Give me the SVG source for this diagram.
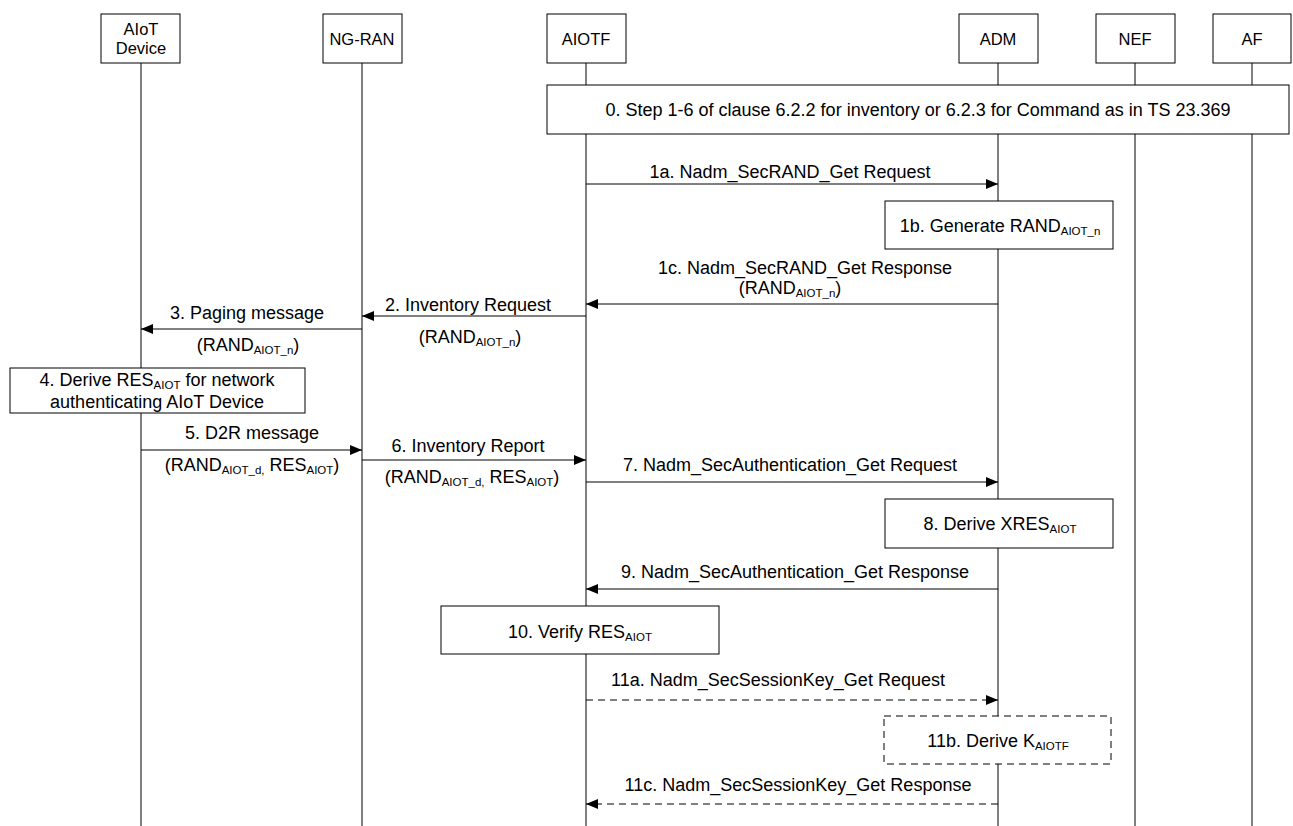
<svg xmlns="http://www.w3.org/2000/svg" width="1293" height="826" viewBox="0 0 1293 826">
<style>
text{font-family:"Liberation Sans",Arial,sans-serif;font-size:18px;fill:#000;text-anchor:middle}
.hd{font-size:16.5px}
.sub{font-size:11.5px}
.box{fill:#fff;stroke:#000;stroke-width:1}
.dbox{fill:#fff;stroke:#000;stroke-width:1;stroke-dasharray:7,5}
.life{stroke:#000;stroke-width:1}
.msg{stroke:#000;stroke-width:1;fill:none;marker-end:url(#ah)}
.dmsg{stroke:#000;stroke-width:1;fill:none;stroke-dasharray:7,5;marker-end:url(#ah)}
</style>
<defs>
<marker id="ah" markerWidth="12" markerHeight="10" refX="12" refY="5" orient="auto" markerUnits="userSpaceOnUse">
<path d="M0,0 L12,5 L0,10 Z" fill="#000"/>
</marker>
</defs>
<rect width="1293" height="826" fill="#fff"/>
<g id="lifelines">
<line class="life" x1="141" y1="63" x2="141" y2="826"/>
<line class="life" x1="362" y1="63" x2="362" y2="826"/>
<line class="life" x1="586" y1="63" x2="586" y2="826"/>
<line class="life" x1="998" y1="63" x2="998" y2="826"/>
<line class="life" x1="1135" y1="63" x2="1135" y2="826"/>
<line class="life" x1="1252" y1="63" x2="1252" y2="826"/>
</g>
<g id="node-aiot"><rect class="box" x="101" y="14" width="79" height="49"/><text class="hd" x="141" y="35">AIoT</text><text class="hd" x="141" y="53.5">Device</text></g>
<g id="node-ngran"><rect class="box" x="323" y="14" width="79" height="49"/><text class="hd" x="362" y="44.5">NG-RAN</text></g>
<g id="node-aiotf"><rect class="box" x="547" y="14" width="79" height="49"/><text class="hd" x="586" y="44.5">AIOTF</text></g>
<g id="node-adm"><rect class="box" x="959" y="14" width="79" height="49"/><text class="hd" x="998" y="44.5">ADM</text></g>
<g id="node-nef"><rect class="box" x="1096" y="14" width="79" height="49"/><text class="hd" x="1135" y="44.5">NEF</text></g>
<g id="node-af"><rect class="box" x="1213" y="14" width="78" height="49"/><text class="hd" x="1252" y="44.5">AF</text></g>
<g id="step0"><rect class="box" x="547" y="85" width="742" height="49"/><text x="918" y="116">0. Step 1-6 of clause 6.2.2 for inventory or 6.2.3 for Command as in TS 23.369</text></g>
<g id="step1b"><rect class="box" x="885" y="201" width="228" height="48"/><text x="1000" y="232">1b. Generate RAND<tspan class="sub" dy="3">AIOT_n</tspan></text></g>
<g id="step4"><rect class="box" x="10" y="368" width="295" height="45"/><text x="157" y="386">4. Derive RES<tspan class="sub" dy="3">AIOT</tspan><tspan dy="-3"> for network</tspan></text><text x="157" y="408">authenticating AIoT Device</text></g>
<g id="step8"><rect class="box" x="885" y="499" width="228" height="49"/><text x="1000" y="530">8. Derive XRES<tspan class="sub" dy="3">AIOT</tspan></text></g>
<g id="step10"><rect class="box" x="441" y="606" width="278" height="48"/><text x="580" y="638">10. Verify RES<tspan class="sub" dy="3">AIOT</tspan></text></g>
<g id="step11b"><rect class="dbox" x="884" y="716" width="227" height="48"/><text x="998" y="747">11b. Derive K<tspan class="sub" dy="3">AIOTF</tspan></text></g>
<g id="connectors">
<line class="msg" x1="586" y1="184" x2="998" y2="184"/>
<line class="msg" x1="998" y1="304" x2="586" y2="304"/>
<line class="msg" x1="586" y1="316" x2="362" y2="316"/>
<line class="msg" x1="362" y1="329" x2="141" y2="329"/>
<line class="msg" x1="141" y1="450" x2="362" y2="450"/>
<line class="msg" x1="362" y1="460" x2="586" y2="460"/>
<line class="msg" x1="586" y1="482" x2="998" y2="482"/>
<line class="msg" x1="998" y1="589" x2="586" y2="589"/>
<line class="dmsg" x1="586" y1="700" x2="998" y2="700"/>
<line class="dmsg" x1="998" y1="804" x2="586" y2="804"/>
</g>
<g id="labels">
<text x="790" y="178">1a. Nadm_SecRAND_Get Request</text>
<text x="805" y="274">1c. Nadm_SecRAND_Get Response</text>
<text x="790" y="294">(RAND<tspan class="sub" dy="3">AIOT_n</tspan><tspan dy="-3">)</tspan></text>
<text x="468" y="311">2. Inventory Request</text>
<text x="470" y="343">(RAND<tspan class="sub" dy="3">AIOT_n</tspan><tspan dy="-3">)</tspan></text>
<text x="247" y="319">3. Paging message</text>
<text x="248" y="351">(RAND<tspan class="sub" dy="3">AIOT_n</tspan><tspan dy="-3">)</tspan></text>
<text x="252" y="439">5. D2R message</text>
<text x="252" y="471">(RAND<tspan class="sub" dy="3">AIOT_d,</tspan><tspan dy="-3"> RES</tspan><tspan class="sub" dy="3">AIOT</tspan><tspan dy="-3">)</tspan></text>
<text x="468" y="452">6. Inventory Report</text>
<text x="472" y="483">(RAND<tspan class="sub" dy="3">AIOT_d,</tspan><tspan dy="-3"> RES</tspan><tspan class="sub" dy="3">AIOT</tspan><tspan dy="-3">)</tspan></text>
<text x="790" y="471">7. Nadm_SecAuthentication_Get Request</text>
<text x="795" y="578">9. Nadm_SecAuthentication_Get Response</text>
<text x="778" y="686">11a. Nadm_SecSessionKey_Get Request</text>
<text x="798" y="791">11c. Nadm_SecSessionKey_Get Response</text>
</g>
</svg>
